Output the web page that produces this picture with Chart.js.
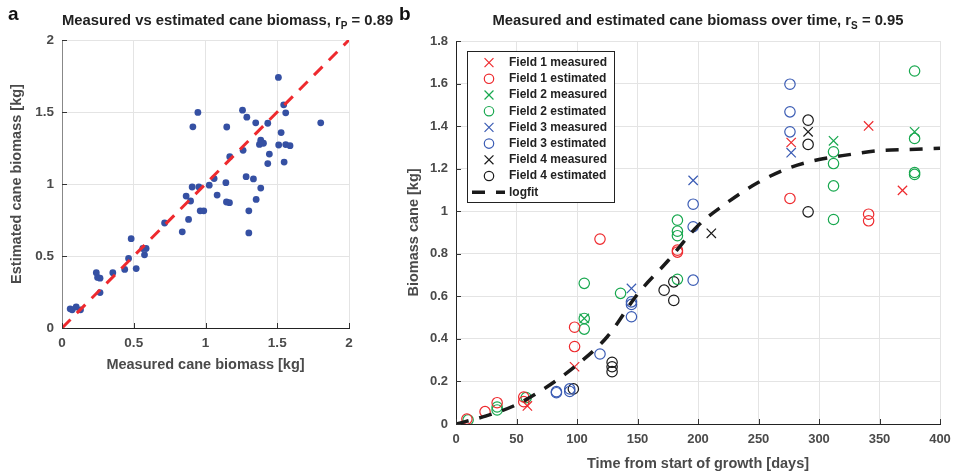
<!DOCTYPE html>
<html>
<head>
<meta charset="utf-8">
<script src="https://cdn.jsdelivr.net/npm/chart.js@4.4.1/dist/chart.umd.min.js"></script>
<style>
  body { margin: 0; background: #fff; width: 966px; height: 475px; position: relative; overflow: hidden;
         font-family: "Liberation Sans", Arial, sans-serif; }
  .panel { position: absolute; top: 0; height: 475px; }
  #pa { left: 0; width: 380px; }
  #pb { left: 380px; width: 586px; }
  .letter { position: absolute; top: 4px; font-weight: bold; font-size: 19px; line-height: 20px; color: #111; }
  .title { position: absolute; top: 12px; font-weight: bold; font-size: 14.8px; line-height: 17px; color: #222;
           text-align: center; white-space: nowrap; }
  .title sub { font-size: 10px; vertical-align: -4px; line-height: 0; }
</style>
</head>
<body>
<div class="panel" id="pa"><canvas id="chartA"></canvas></div>
<div class="panel" id="pb"><canvas id="chartB"></canvas></div>
<div class="letter" style="left:8px">a</div>
<div class="letter" style="left:399px">b</div>
<div class="title" style="left:62px;width:287px">Measured vs estimated cane biomass, r<sub>P</sub> = 0.89</div>
<div class="title" style="left:456px;width:484px">Measured and estimated cane biomass over time, r<sub>S</sub> = 0.95</div>
<script>
// ---- panel a: measured vs estimated (kg)
const measuredA = [1.508, 0.947, 0.912, 1.258, 1.288, 1.350, 1.148, 1.434, 1.545, 1.559,
  1.527, 1.803, 1.385, 1.376, 1.404, 1.510, 1.559, 1.589, 1.262, 1.169,
  1.445, 1.434, 1.548, 1.283, 1.334, 1.060, 1.026, 1.142, 0.907, 0.954,
  0.865, 0.896, 1.081, 1.146, 1.167, 1.385, 1.353, 0.963, 0.988, 1.302,
  0.882, 0.715, 0.838, 1.302, 0.482, 0.563, 0.586, 0.575, 0.464, 0.517,
  0.437, 0.354, 0.239, 0.248, 0.265, 0.265, 0.057, 0.071, 0.099, 0.129]
const estimatedA = [1.740, 1.497, 1.397, 1.513, 1.464, 1.425, 1.396, 1.422, 1.550, 1.494,
  1.357, 1.425, 1.304, 1.275, 1.283, 1.271, 1.274, 1.266, 1.234, 1.190,
  1.208, 1.142, 1.152, 1.051, 1.035, 1.038, 0.992, 1.009, 0.979, 0.979,
  0.916, 0.882, 0.923, 0.875, 0.870, 0.972, 0.893, 0.814, 0.814, 0.814,
  0.754, 0.729, 0.668, 0.660, 0.620, 0.552, 0.552, 0.508, 0.483, 0.413,
  0.407, 0.384, 0.384, 0.351, 0.346, 0.246, 0.133, 0.126, 0.146, 0.126]
const identityLine = [0, 2]

// ---- panel b: biomass over time (days, kg)
const f1MeasDays = [59, 98, 277, 341, 369]
const f1MeasVals = [0.085, 0.269, 1.323, 1.401, 1.098]
const f1EstDays = [9, 24, 34, 56, 56, 98, 98, 119, 183, 183, 276, 341, 341]
const f1EstVals = [0.023, 0.058, 0.100, 0.127, 0.105, 0.455, 0.364, 0.869, 0.817, 0.808, 1.060, 0.986, 0.955]
const f2MeasDays = [106, 312, 379]
const f2MeasVals = [0.496, 1.331, 1.373]
const f2EstDays = [10, 34, 34, 58, 106, 106, 106, 136, 183, 183, 183, 183, 312, 312, 312, 312, 379, 379, 379, 379]
const f2EstVals = [0.019, 0.080, 0.066, 0.124, 0.496, 0.446, 0.661, 0.614, 0.958, 0.906, 0.885, 0.680,
  1.279, 1.224, 1.119, 0.961, 1.659, 1.342, 1.182, 1.173]
const f3MeasDays = [145, 196, 277]
const f3MeasVals = [0.637, 1.145, 1.275]
const f3EstDays = [83, 83, 94, 94, 119, 145, 145, 145, 196, 196, 196, 276, 276, 276]
const f3EstVals = [0.147, 0.152, 0.165, 0.153, 0.329, 0.574, 0.562, 0.504, 1.033, 0.927, 0.676, 1.597, 1.467, 1.373]
const f4MeasDays = [211, 291]
const f4MeasVals = [0.896, 1.373]
const f4EstDays = [97, 129, 129, 129, 172, 180, 180, 291, 291, 291]
const f4EstVals = [0.165, 0.290, 0.269, 0.246, 0.629, 0.668, 0.581, 1.428, 1.314, 0.997]
const fitDays = [0, 25, 50, 75, 100, 125, 150, 175, 200, 225, 250, 275, 300, 325, 350, 375, 400]
const fitVals = [0, 0.038, 0.091, 0.174, 0.278, 0.41, 0.61, 0.766, 0.932, 1.044, 1.136, 1.203, 1.243, 1.266, 1.285, 1.29, 1.296]

const RED = "#ee2a2e"
const GREEN = "#18a84f"
const BLUE = "#3b5cb4"
const BLACK = "#1a1a1a"
const FONT = '"Liberation Sans", Arial, sans-serif'
const TICK_COLOR = "#4a4a4a"
const GRID = "#e4e4e4"

const pts = (xs, ys) => xs.map((x, i) => ({ x, y: ys[i] }))

// MATLAB style ticks pointing into the plot
const innerTicks = {
  id: "innerTicks",
  afterDraw(chart) {
    const { ctx, chartArea: a, scales: { x, y } } = chart
    ctx.save()
    ctx.strokeStyle = "#333"
    ctx.lineWidth = 1
    ctx.beginPath()
    x.ticks.forEach(t => {
      const px = Math.round(x.getPixelForValue(t.value)) + 0.5
      ctx.moveTo(px, a.bottom); ctx.lineTo(px, a.bottom - 5)
    })
    y.ticks.forEach(t => {
      const py = Math.round(y.getPixelForValue(t.value)) + 0.5
      ctx.moveTo(a.left, py); ctx.lineTo(a.left + 5, py)
    })
    ctx.stroke()
    ctx.restore()
  },
}

// boxed legend in the upper left corner of the plot
const boxLegend = {
  id: "boxLegend",
  afterDatasetsDraw(chart) {
    const { ctx, chartArea: a } = chart
    const x0 = a.left + 11, y0 = a.top + 10, w = 147, h = 151
    ctx.save()
    ctx.fillStyle = "#fff"
    ctx.fillRect(x0, y0, w, h)
    ctx.strokeStyle = "#222"
    ctx.lineWidth = 1
    ctx.strokeRect(Math.round(x0) + 0.5, Math.round(y0) + 0.5, w, h)
    ctx.font = "bold 12px " + FONT
    ctx.textBaseline = "middle"
    chart.data.datasets.forEach((ds, i) => {
      const cy = y0 + 11.6 + i * 16.2
      ctx.strokeStyle = ds.borderColor
      if (ds.showLine) {
        ctx.lineWidth = ds.borderWidth
        ctx.setLineDash(ds.borderDash)
        ctx.beginPath(); ctx.moveTo(x0 + 5, cy); ctx.lineTo(x0 + 38, cy); ctx.stroke()
        ctx.setLineDash([])
      } else {
        ctx.lineWidth = ds.pointBorderWidth
        ctx.fillStyle = "rgba(0,0,0,0)"
        Chart.helpers.drawPoint(ctx, {
          pointStyle: ds.pointStyle,
          radius: ds.pointStyle === "circle" ? 4.7 : 6.3,
          borderWidth: ds.pointBorderWidth,
          rotation: 0,
        }, x0 + 22, cy)
      }
      ctx.fillStyle = "#222"
      ctx.fillText(ds.label, x0 + 42, cy)
    })
    ctx.restore()
  },
}

const axisTitle = (text, padding) => ({
  display: true, text, color: TICK_COLOR, padding,
  font: { family: FONT, size: 14.5, weight: "bold" },
})

// ---- chart a
new Chart(document.getElementById("chartA"), {
  type: "scatter",
  data: {
    datasets: [
      {
        label: "1:1",
        data: pts(identityLine, identityLine),
        showLine: true,
        borderColor: RED,
        borderWidth: 3,
        borderDash: [12, 9],
        pointRadius: 0,
        order: 0,
      },
      {
        label: "cane biomass",
        data: pts(measuredA, estimatedA),
        backgroundColor: "#3550a3",
        borderColor: "#3550a3",
        pointRadius: 3.4,
        pointBorderWidth: 0,
        order: 1,
      },
    ],
  },
  options: {
    responsive: true,
    maintainAspectRatio: false,
    animation: false,
    layout: { padding: { top: 40, right: 31, left: 0, bottom: 90 } },
    plugins: { legend: { display: false }, tooltip: { enabled: false } },
    scales: {
      x: {
        type: "linear", min: 0, max: 2,
        ticks: { stepSize: 0.5, padding: 7, color: TICK_COLOR, font: { family: FONT, size: 13.5, weight: "bold" },
                 callback: v => +v.toFixed(1) },
        grid: { color: GRID, drawTicks: false },
        border: { color: "#222", width: 1 },
        title: axisTitle("Measured cane biomass [kg]", { top: 0, bottom: 11 }),
        afterFit(s) { s.height = 57 },
      },
      y: {
        type: "linear", min: 0, max: 2,
        ticks: { stepSize: 0.5, padding: 8, color: TICK_COLOR, font: { family: FONT, size: 13.5, weight: "bold" },
                 callback: v => +v.toFixed(1) },
        grid: { color: GRID, drawTicks: false },
        border: { color: "#888", width: 1 },
        title: axisTitle("Estimated cane biomass [kg]", { top: 8, bottom: 0 }),
        afterFit(s) { s.width = 62 },
      },
    },
  },
  plugins: [innerTicks],
})

// ---- chart b
const marker = (label, xs, ys, color, style) => ({
  label,
  data: pts(xs, ys),
  pointStyle: style,
  pointRadius: style === "circle" ? 5.2 : 6.6,
  pointBorderWidth: 1.2,
  borderColor: color,
  backgroundColor: "rgba(0,0,0,0)",
  showLine: false,
  order: 1,
})

new Chart(document.getElementById("chartB"), {
  type: "scatter",
  data: {
    datasets: [
      marker("Field 1 measured", f1MeasDays, f1MeasVals, RED, "crossRot"),
      marker("Field 1 estimated", f1EstDays, f1EstVals, RED, "circle"),
      marker("Field 2 measured", f2MeasDays, f2MeasVals, GREEN, "crossRot"),
      marker("Field 2 estimated", f2EstDays, f2EstVals, GREEN, "circle"),
      marker("Field 3 measured", f3MeasDays, f3MeasVals, BLUE, "crossRot"),
      marker("Field 3 estimated", f3EstDays, f3EstVals, BLUE, "circle"),
      marker("Field 4 measured", f4MeasDays, f4MeasVals, BLACK, "crossRot"),
      marker("Field 4 estimated", f4EstDays, f4EstVals, BLACK, "circle"),
      {
        label: "logfit",
        data: pts(fitDays, fitVals),
        showLine: true,
        borderColor: BLACK,
        borderWidth: 3.5,
        borderDash: [13, 11],
        cubicInterpolationMode: "monotone",
        pointRadius: 0,
        order: 0,
      },
    ],
  },
  options: {
    responsive: true,
    maintainAspectRatio: false,
    animation: false,
    layout: { padding: { top: 41, right: 26, left: 0, bottom: 0 } },
    plugins: { legend: { display: false }, tooltip: { enabled: false } },
    scales: {
      x: {
        type: "linear", min: 0, max: 400,
        ticks: { stepSize: 50, padding: 8, color: TICK_COLOR, font: { family: FONT, size: 13, weight: "bold" } },
        grid: { color: GRID, drawTicks: false },
        border: { color: "#222", width: 1 },
        title: axisTitle("Time from start of growth [days]", { top: 0, bottom: 2.5 }),
        afterFit(s) { s.height = 51 },
      },
      y: {
        type: "linear", min: 0, max: 1.8,
        ticks: { stepSize: 0.2, padding: 8, color: TICK_COLOR, font: { family: FONT, size: 13, weight: "bold" },
                 callback: v => +v.toFixed(1) },
        grid: { color: GRID, drawTicks: false },
        border: { color: "#222", width: 1 },
        title: axisTitle("Biomass cane [kg]", { top: 25, bottom: 0 }),
        afterFit(s) { s.width = 76 },
      },
    },
  },
  plugins: [boxLegend, innerTicks],
})
</script>
</body>
</html>
